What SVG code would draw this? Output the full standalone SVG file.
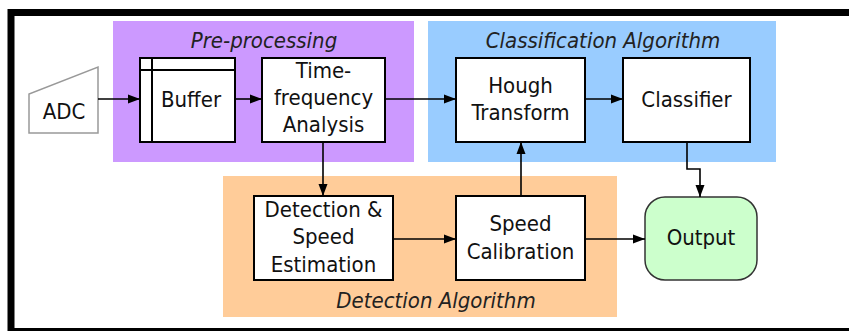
<svg xmlns="http://www.w3.org/2000/svg" width="849" height="331" viewBox="0 0 849 331">
<defs>
<marker id="ah" viewBox="0 0 12 10" refX="12" refY="5" markerWidth="12" markerHeight="10" markerUnits="userSpaceOnUse" orient="auto">
<path d="M0,0.5 L12,5 L0,9.5 Z" fill="#000"/>
</marker>
</defs>
<style>
.box{fill:#fff;stroke:#000;stroke-width:2}
.t{font-family:"DejaVu Sans Condensed","DejaVu Sans",Verdana,sans-serif;font-stretch:condensed;font-size:22px;fill:#111;text-anchor:middle}
.g{font-family:"DejaVu Sans Condensed","DejaVu Sans",Verdana,sans-serif;font-stretch:condensed;font-size:22px;font-style:italic;fill:#222;text-anchor:middle}
.c{fill:none;stroke:#000;stroke-width:1.6;marker-end:url(#ah)}
</style>
<rect x="0" y="0" width="849" height="331" fill="#fff"/>
<rect x="11" y="12.5" width="900" height="319" fill="#fff" stroke="#000" stroke-width="7"/>

<g id="preprocessing">
<rect x="113" y="21" width="301" height="141" fill="#CC99FF"/>
<text class="g" x="264" y="48">Pre-processing</text>
</g>
<g id="classification">
<rect x="428" y="21" width="348" height="141" fill="#99CCFF"/>
<text class="g" x="603" y="48">Classification Algorithm</text>
</g>
<g id="detection">
<rect x="223" y="176" width="394" height="141" fill="#FFCC99"/>
<text class="g" x="436" y="308">Detection Algorithm</text>
</g>

<g id="adc">
<path d="M29,133 L98,133 L98,67 L29,94 Z" fill="#fff" stroke="#999" stroke-width="1.5"/>
<text class="t" x="64" y="119">ADC</text>
</g>
<g id="buffer">
<rect class="box" x="140" y="58" width="95" height="84"/>
<line x1="152" y1="58" x2="152" y2="142" stroke="#000" stroke-width="2"/>
<line x1="140" y1="70" x2="235" y2="70" stroke="#000" stroke-width="2"/>
<text class="t" x="191" y="107">Buffer</text>
</g>
<g id="tfa">
<rect class="box" x="262" y="58" width="123" height="84"/>
<text class="t" x="323.5" y="78">Time-</text>
<text class="t" x="323.5" y="105">frequency</text>
<text class="t" x="323.5" y="132">Analysis</text>
</g>
<g id="hough">
<rect class="box" x="456" y="58" width="129" height="84"/>
<text class="t" x="520.5" y="92.5">Hough</text>
<text class="t" x="520.5" y="119.5">Transform</text>
</g>
<g id="classifier">
<rect class="box" x="623" y="58" width="127" height="84"/>
<text class="t" x="686.5" y="107">Classifier</text>
</g>
<g id="detspeed">
<rect class="box" x="254" y="196" width="139" height="84"/>
<text class="t" x="323.5" y="217">Detection &amp;</text>
<text class="t" x="323.5" y="244">Speed</text>
<text class="t" x="323.5" y="272">Estimation</text>
</g>
<g id="speedcal">
<rect class="box" x="456" y="196" width="129" height="84"/>
<text class="t" x="520.5" y="230.5">Speed</text>
<text class="t" x="520.5" y="258.5">Calibration</text>
</g>
<g id="output">
<rect x="645" y="197" width="112" height="83" rx="20" ry="20" fill="#CCFFCC" stroke="#333" stroke-width="1.5"/>
<text class="t" x="701" y="245">Output</text>
</g>

<g id="connectors">
<line class="c" x1="98" y1="99" x2="140" y2="99"/>
<line class="c" x1="235" y1="99" x2="262" y2="99"/>
<line class="c" x1="385" y1="99" x2="456" y2="99"/>
<line class="c" x1="585" y1="99" x2="623" y2="99"/>
<line class="c" x1="323" y1="142" x2="323" y2="196"/>
<line class="c" x1="393" y1="239" x2="456" y2="239"/>
<line class="c" x1="521" y1="196" x2="521" y2="142"/>
<line class="c" x1="585" y1="239" x2="645" y2="239"/>
<polyline class="c" points="687,142 687,169 700,169 700,197"/>
</g>
</svg>
